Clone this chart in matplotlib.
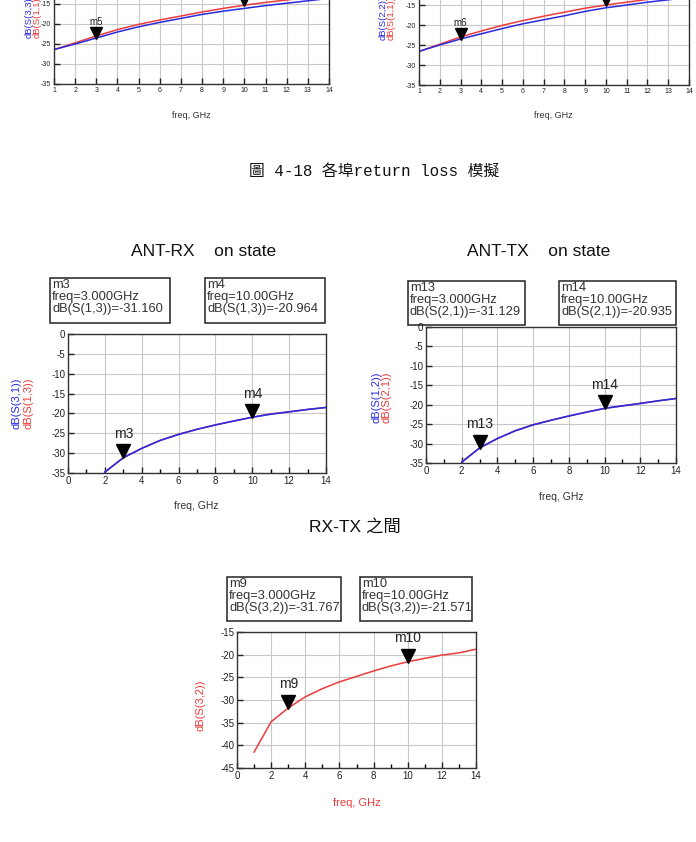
import numpy as np
import matplotlib
matplotlib.use('Agg')
import matplotlib.pyplot as plt
from matplotlib.patches import Rectangle
from matplotlib import transforms

plt.rcParams['font.family'] = ['Liberation Sans', 'Noto Sans CJK TC', 'DejaVu Sans']
plt.rcParams['axes.unicode_minus'] = False

W, H = 696, 842

# --- data ---
freq_top = [1, 2, 3, 4, 5, 6, 7, 8, 9, 10, 11, 12, 13, 14]
s33_db = [-26.4, -25.0, -23.5, -22.0, -20.7, -19.6, -18.6, -17.6, -16.8, -16.1, -15.4, -14.8, -14.2, -13.6]
s11_db_a = [-26.4, -24.7, -23.0, -21.4, -20.1, -19.0, -18.0, -17.0, -16.1, -15.3, -14.6, -14.0, -13.4, -12.8]
s22_db = [-26.6, -25.0, -23.5, -22.2, -20.9, -19.7, -18.7, -17.7, -16.6, -15.7, -15.0, -14.3, -13.7, -13.1]
s11_db_b = [-26.6, -24.8, -23.0, -21.5, -20.1, -18.9, -17.8, -16.8, -15.8, -15.0, -14.3, -13.6, -13.0, -12.4]

freq_mid = [2, 3, 4, 5, 6, 7, 8, 9, 10, 11, 12, 13, 14]
s31_db = [-34.8, -31.16, -28.8, -26.8, -25.3, -24.0, -22.9, -21.9, -20.96, -20.2, -19.6, -19.0, -18.5]
s13_db = [-34.7, -31.16, -28.8, -26.8, -25.2, -24.0, -22.9, -21.9, -20.96, -20.1, -19.6, -19.0, -18.5]
s12_db = [-34.8, -31.13, -28.7, -26.7, -25.2, -24.0, -22.9, -21.9, -20.94, -20.3, -19.7, -19.0, -18.4]
s21_db = [-34.7, -31.13, -28.7, -26.7, -25.1, -24.0, -22.9, -21.9, -20.94, -20.3, -19.6, -19.0, -18.4]

freq_bot = [1, 2, 3, 4, 5, 6, 7, 8, 9, 10, 11, 12, 13, 14]
s32_db = [-41.5, -34.8, -31.77, -29.3, -27.5, -26.0, -24.8, -23.6, -22.5, -21.57, -20.8, -20.1, -19.6, -18.8]

BLUE = '#2a2ae0'
RED = '#ee3a3a'

fig = plt.figure(figsize=(W / 100, H / 100), dpi=100)


def add_ax(l, t, r, b):
    return fig.add_axes([l / W, 1 - b / H, (r - l) / W, (b - t) / H])


def style(ax, xlim, ylim, xmajor, ymajor, xminor, fs):
    ax.set_xlim(*xlim)
    ax.set_ylim(*ylim)
    ax.set_xticks(xmajor)
    ax.set_yticks(ymajor)
    ax.set_xticks(xminor, minor=True)
    ax.grid(True, color='#c8c8c8', lw=0.8)
    ax.tick_params(direction='in', length=4, width=1, labelsize=fs, pad=2, colors='#222222')
    ax.tick_params(which='minor', direction='in', length=3, width=1)
    for s in ax.spines.values():
        s.set_linewidth(1.0)
        s.set_color('#333333')
    ax.set_axisbelow(True)


def marker(ax, x, y, name, fs=10, ms=10, dy=3):
    tr = transforms.offset_copy(ax.transData, fig=fig, x=0, y=ms * 0.45, units='points')
    ax.plot([x], [y], marker='v', color='black', ms=ms, transform=tr, clip_on=False, zorder=5)
    tr2 = transforms.offset_copy(ax.transData, fig=fig, x=0, y=dy + ms * 0.9, units='points')
    ax.text(x, y, name, transform=tr2, ha='center', va='bottom', fontsize=fs, color='#222222')


def box(l, t, r, b, text, fs=9.3):
    fig.add_artist(Rectangle((l / W, 1 - b / H), (r - l) / W, (b - t) / H,
                             transform=fig.transFigure, fill=False, ec='#222222', lw=1.1))
    fig.text((l + 2) / W, 1 - (t + 1) / H, text, ha='left', va='top', fontsize=fs,
             color='#333333', linespacing=1.02)


# ---- top row (cut off at page top) ----
ax1 = add_ax(54, -56, 329, 84)
style(ax1, (1, 14), (-35, 0), freq_top, [-35, -30, -25, -20, -15, -10, -5, 0], freq_top, 5)
ax1.plot(freq_top, s11_db_a, color=RED, lw=1.1)
ax1.plot(freq_top, s33_db, color=BLUE, lw=1.1)
marker(ax1, 3, s33_db[2], 'm5', fs=7, ms=8, dy=1)
marker(ax1, 10, s11_db_a[9], 'm6', fs=7, ms=8, dy=1)
fig.text(191 / W, 1 - 115 / H, 'freq, GHz', ha='center', va='center', fontsize=6.5, color='#333333')
fig.text(29 / W, 1 - 38 / H, 'dB(S(3,3))', rotation=90, ha='center', va='bottom', fontsize=6.8, color=BLUE)
fig.text(37 / W, 1 - 38 / H, 'dB(S(1,1))', rotation=90, ha='center', va='bottom', fontsize=6.8, color=RED)

ax2 = add_ax(419, -55, 689, 85)
style(ax2, (1, 14), (-35, 0), freq_top, [-35, -30, -25, -20, -15, -10, -5, 0], freq_top, 5)
ax2.plot(freq_top, s11_db_b, color=RED, lw=1.1)
ax2.plot(freq_top, s22_db, color=BLUE, lw=1.1)
marker(ax2, 3, s22_db[2], 'm6', fs=7, ms=8, dy=1)
marker(ax2, 10, s11_db_b[9], 'm7', fs=7, ms=8, dy=1)
fig.text(553 / W, 1 - 115 / H, 'freq, GHz', ha='center', va='center', fontsize=6.5, color='#333333')
fig.text(383 / W, 1 - 40 / H, 'dB(S(2,2))', rotation=90, ha='center', va='bottom', fontsize=6.8, color=BLUE)
fig.text(391 / W, 1 - 40 / H, 'dB(S(1,1))', rotation=90, ha='center', va='bottom', fontsize=6.8, color=RED)

fig.text(249 / W, 1 - 171 / H, '圖 4-18 各埠return loss 模擬', ha='left', va='center',
         fontsize=11.4, family=['Liberation Mono', 'Noto Sans CJK TC'], color='#111111')

# ---- middle row ----
fig.text(204 / W, 1 - 252 / H, 'ANT-RX    on state', ha='center', va='center', fontsize=12.5, color='#111111')
ax3 = add_ax(68, 334, 326, 473)
style(ax3, (0, 14), (-35, 0), [0, 2, 4, 6, 8, 10, 12, 14], [-35, -30, -25, -20, -15, -10, -5, 0],
      list(range(15)), 7)
ax3.plot(freq_mid, s13_db, color=RED, lw=1.0)
ax3.plot(freq_mid, s31_db, color=BLUE, lw=1.2)
marker(ax3, 3, s31_db[1], 'm3')
marker(ax3, 10, s31_db[8], 'm4')
box(50, 278, 170, 323, 'm3\nfreq=3.000GHz\ndB(S(1,3))=-31.160')
box(205, 278, 325, 323, 'm4\nfreq=10.00GHz\ndB(S(1,3))=-20.964')
fig.text(196 / W, 1 - 506 / H, 'freq, GHz', ha='center', va='center', fontsize=7.5, color='#333333')
fig.text(17 / W, 1 - 403 / H, 'dB(S(3,1))', rotation=90, ha='center', va='center', fontsize=8, color=BLUE)
fig.text(28 / W, 1 - 403 / H, 'dB(S(1,3))', rotation=90, ha='center', va='center', fontsize=8, color=RED)

fig.text(539 / W, 1 - 252 / H, 'ANT-TX    on state', ha='center', va='center', fontsize=12.5, color='#111111')
ax4 = add_ax(426, 327, 676, 463)
style(ax4, (0, 14), (-35, 0), [0, 2, 4, 6, 8, 10, 12, 14], [-35, -30, -25, -20, -15, -10, -5, 0],
      list(range(15)), 7)
ax4.plot(freq_mid, s21_db, color=RED, lw=1.0)
ax4.plot(freq_mid, s12_db, color=BLUE, lw=1.2)
marker(ax4, 3, s12_db[1], 'm13')
marker(ax4, 10, s12_db[8], 'm14')
box(408, 281, 525, 325, 'm13\nfreq=3.000GHz\ndB(S(2,1))=-31.129')
box(559, 281, 676, 325, 'm14\nfreq=10.00GHz\ndB(S(2,1))=-20.935')
fig.text(561 / W, 1 - 497 / H, 'freq, GHz', ha='center', va='center', fontsize=7.5, color='#333333')
fig.text(376 / W, 1 - 397 / H, 'dB(S(1,2))', rotation=90, ha='center', va='center', fontsize=8, color=BLUE)
fig.text(387 / W, 1 - 397 / H, 'dB(S(2,1))', rotation=90, ha='center', va='center', fontsize=8, color=RED)

# ---- bottom ----
fig.text(355 / W, 1 - 527 / H, 'RX-TX 之間', ha='center', va='center', fontsize=12.5, color='#111111')
ax5 = add_ax(237, 632, 476, 768)
style(ax5, (0, 14), (-45, -15), [0, 2, 4, 6, 8, 10, 12, 14], [-45, -40, -35, -30, -25, -20, -15],
      list(range(15)), 7)
ax5.plot(freq_bot, s32_db, color=RED, lw=1.1)
marker(ax5, 3, s32_db[2], 'm9')
marker(ax5, 10, s32_db[9], 'm10')
box(227, 577, 341, 621, 'm9\nfreq=3.000GHz\ndB(S(3,2))=-31.767')
box(360, 577, 472, 621, 'm10\nfreq=10.00GHz\ndB(S(3,2))=-21.571')
fig.text(357 / W, 1 - 803 / H, 'freq, GHz', ha='center', va='center', fontsize=8, color=RED)
fig.text(201 / W, 1 - 705 / H, 'dB(S(3,2))', rotation=90, ha='center', va='center', fontsize=8, color=RED)

fig.savefig('out.png', dpi=100, facecolor='white')
